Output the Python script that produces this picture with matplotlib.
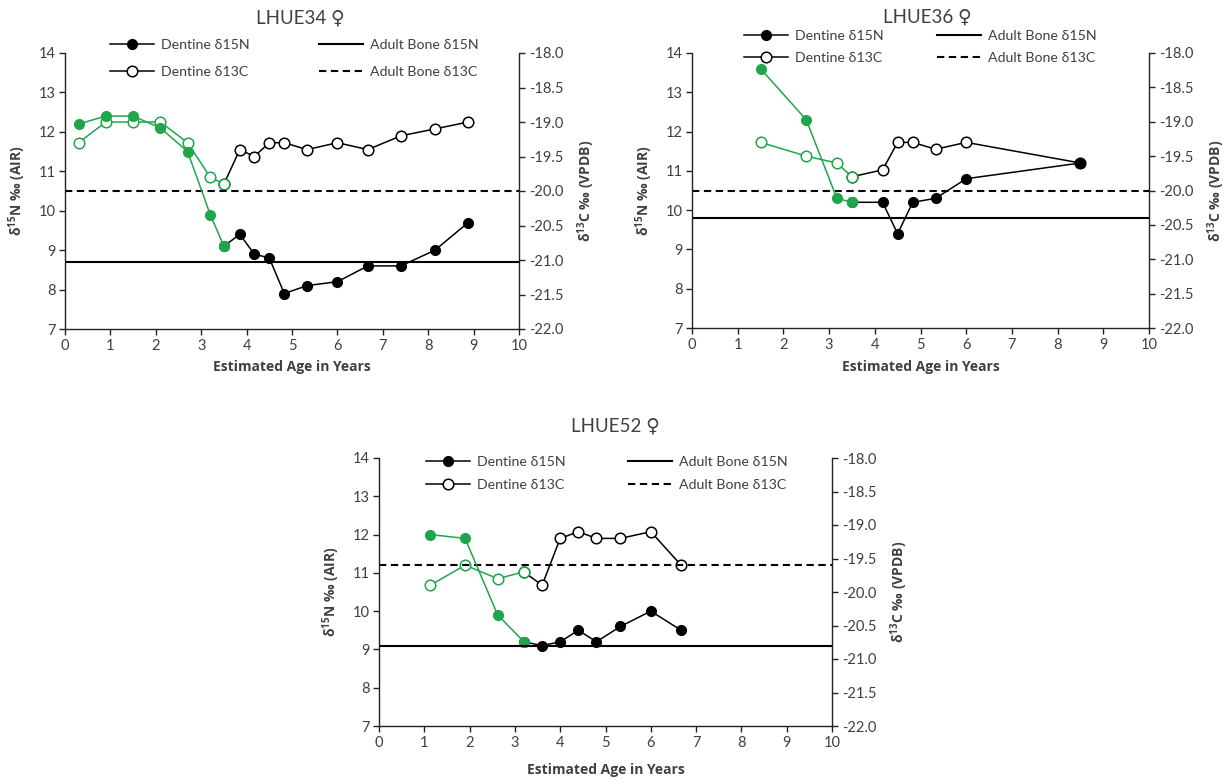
import matplotlib
matplotlib.use("Agg")
import matplotlib.pyplot as plt
from matplotlib.lines import Line2D
from matplotlib.ticker import FormatStrFormatter

W, H = 1229, 784
GREEN = "#1fa64c"
INK = "#404040"

# LHUE34 - age (years), dentine d15N, dentine d13C; first 7 points in green
age34 = [0.3, 0.9, 1.5, 2.1, 2.7, 3.2, 3.5, 3.85, 4.17, 4.5, 4.83, 5.33, 6.0, 6.67, 7.4, 8.15, 8.88]
n34 = [12.2, 12.4, 12.4, 12.1, 11.5, 9.9, 9.1, 9.4, 8.9, 8.8, 7.9, 8.1, 8.2, 8.6, 8.6, 9.0, 9.7]
c34 = [-19.3, -19.0, -19.0, -19.0, -19.3, -19.8, -19.9, -19.4, -19.5, -19.3, -19.3, -19.4, -19.3,
       -19.4, -19.2, -19.1, -19.0]
green34 = 7
bone_n34, bone_c34 = 8.7, -20.0

# LHUE36
age36 = [1.5, 2.5, 3.17, 3.5, 4.17, 4.5, 4.83, 5.33, 6.0, 8.5]
n36 = [13.6, 12.3, 10.3, 10.2, 10.2, 9.4, 10.2, 10.3, 10.8, 11.2]
c36 = [-19.3, -19.5, -19.6, -19.8, -19.7, -19.3, -19.3, -19.4, -19.3, -19.6]
green36 = 4
bone_n36, bone_c36 = 9.8, -20.0

# LHUE52
age52 = [1.13, 1.9, 2.62, 3.2, 3.6, 4.0, 4.4, 4.8, 5.33, 6.0, 6.67]
n52 = [12.0, 11.9, 9.9, 9.2, 9.1, 9.2, 9.5, 9.2, 9.6, 10.0, 9.5]
c52 = [-19.9, -19.6, -19.8, -19.7, -19.9, -19.2, -19.1, -19.2, -19.2, -19.1, -19.6]
green52 = 4
bone_n52, bone_c52 = 9.1, -19.6

plt.rcParams["font.family"] = ["Lato", "DejaVu Sans"]
plt.rcParams["mathtext.fontset"] = "custom"
plt.rcParams["mathtext.rm"] = "Open Sans"
plt.rcParams["mathtext.bf"] = "Open Sans:bold"
plt.rcParams["axes.unicode_minus"] = False
BOLD = ["Open Sans", "DejaVu Sans"]

fig = plt.figure(figsize=(W / 100, H / 100), dpi=100)


def panel(box, title, title_xy, age, d15n, d13c, k, bone_n, bone_c, legx, legy, legsp, xlab_y):
    l, t, r, b = box
    ax = fig.add_axes([l / W, 1 - b / H, (r - l) / W, (b - t) / H])   # d13C axis (right)
    axn = ax.twinx()                                                   # d15N axis (left, drawn on top)
    ax.yaxis.tick_right()
    ax.yaxis.set_label_position("right")
    axn.yaxis.tick_left()
    axn.yaxis.set_label_position("left")

    # carbon: open circles
    ax.plot(age[k - 1:], d13c[k - 1:], color="black", lw=1.1, marker="o", ms=7.6, mfc="white",
            mec="black", mew=1.1)
    ax.plot(age[:k], d13c[:k], color=GREEN, lw=1.1, marker="o", ms=7.6, mfc="white", mec=GREEN, mew=1.1)
    ax.axhline(bone_c, color="black", lw=1.5, ls=(0, (3.5, 2.2)))
    # nitrogen: filled circles
    axn.plot(age[k - 1:], d15n[k - 1:], color="black", lw=1.1, marker="o", ms=7)
    axn.plot(age[:k], d15n[:k], color=GREEN, lw=1.1, marker="o", ms=7)
    axn.axhline(bone_n, color="black", lw=1.5)

    ax.set_xlim(0, 10)
    ax.set_xticks(range(0, 11))
    ax.set_ylim(-22, -18)
    ax.set_yticks([-22 + 0.5 * i for i in range(9)])
    ax.yaxis.set_major_formatter(FormatStrFormatter("%.1f"))
    axn.set_ylim(7, 14)
    axn.set_yticks(range(7, 15))

    for a in (ax, axn):
        a.spines["top"].set_visible(False)
        for s in a.spines.values():
            s.set_linewidth(1.0)
            s.set_color("#222222")
        a.tick_params(direction="out", length=4, width=1.0, color="#222222", labelsize=10.5,
                      labelcolor=INK, pad=3)
    ax.spines["left"].set_visible(False)
    axn.spines["right"].set_visible(False)
    axn.spines["bottom"].set_visible(False)

    ax.set_xlabel("Estimated Age in Years", fontsize=10, fontweight="bold", color=INK, family=BOLD)
    ax.xaxis.set_label_coords(0.5, (b - xlab_y) / (b - t))
    axn.set_ylabel(r"δ$^{\mathbf{15}}$N ‰ (AIR)", fontsize=10, fontweight="bold", color=INK,
                   family=BOLD)
    axn.yaxis.set_label_coords(-37 / (r - l), 0.5)
    ax.set_ylabel(r"δ$^{\mathbf{13}}$C ‰ (VPDB)", fontsize=10, fontweight="bold", color=INK,
                  family=BOLD)
    ax.yaxis.set_label_coords(1 + 56 / (r - l), 0.5)

    fig.text(title_xy[0] / W, 1 - title_xy[1] / H, title, ha="center", va="center", fontsize=13.5,
             color=INK)

    h_dent = [Line2D([], [], color="black", lw=1.1, marker="o", ms=7),
              Line2D([], [], color="black", lw=1.1, marker="o", ms=7.6, mfc="white", mew=1.1)]
    h_bone = [Line2D([], [], color="black", lw=1.5),
              Line2D([], [], color="black", lw=1.5, ls=(0, (3.5, 2.2)))]
    for hs, labs, x in ((h_dent, ["Dentine δ15N", "Dentine δ13C"], legx[0]),
                        (h_bone, ["Adult Bone δ15N", "Adult Bone δ13C"], legx[1])):
        fig.legend(hs, labs, loc="upper left", bbox_to_anchor=(x / W, 1 - (legy - 8) / H),
                   frameon=False, borderpad=0, borderaxespad=0, fontsize=10.2, handlelength=3.1,
                   handletextpad=0.5, labelspacing=legsp, labelcolor=INK)


panel((65, 53, 519, 329), "LHUE34 ♀", (300, 18), age34, n34, c34, green34, bone_n34, bone_c34,
      (110, 319), 47, 1.05, 360)
panel((692, 53, 1149, 328), "LHUE36 ♀", (927, 17), age36, n36, c36, green36, bone_n36, bone_c36,
      (744, 937), 38, 0.72, 360)
panel((379, 458, 832, 726), "LHUE52 ♀", (615, 426), age52, n52, c52, green52, bone_n52, bone_c52,
      (426, 628), 464, 0.8, 763)

fig.savefig("out.png", dpi=100)
